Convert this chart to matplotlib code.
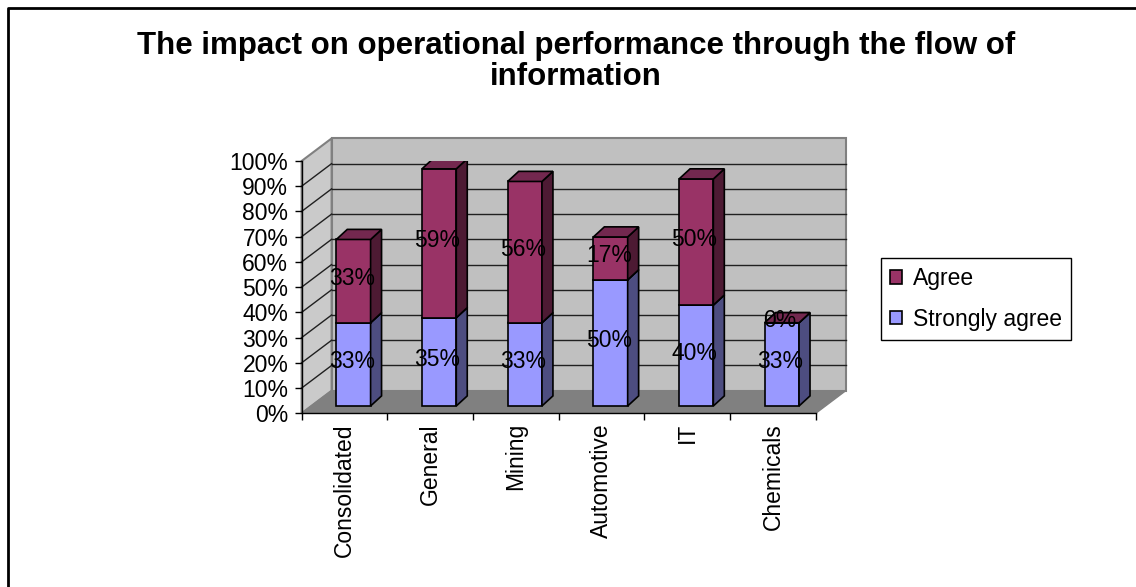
import matplotlib
matplotlib.use('Agg')
import matplotlib.pyplot as plt
from matplotlib.patches import Polygon, Patch
from matplotlib.lines import Line2D
import numpy as np

plt.rcParams['font.family'] = ['Liberation Sans', 'DejaVu Sans']

categories = ['Consolidated', 'General', 'Mining', 'Automotive', 'IT', 'Chemicals']
strongly_agree = [33, 35, 33, 50, 40, 33]
agree = [33, 59, 56, 17, 50, 0]
yticks = list(range(0, 101, 10))

title = 'The impact on operational performance through the flow of\ninformation'

# face colours: front, side, top
blue = ('#9999FF', '#4D4D80', '#7A7ACC')
plum = ('#993366', '#4D1A33', '#73284F')

# pseudo 3D offsets, in data units (x = category, y = percent)
WALL_DX, WALL_DY = 0.35, 8.96
BAR_X0, BAR_Y0 = 0.105, 2.9
BAR_W = 0.40
BAR_DX, BAR_DY = 0.128, 4.0

FS = 16.5

fig = plt.figure(figsize=(11.36, 5.87), dpi=100)
ax = fig.add_axes([0.2655, 0.2959, 0.4526, 0.4298])
n = len(categories)
x0, x1 = -0.5, n - 0.5
ax.set_xlim(x0, x1)
ax.set_ylim(0, 100)
ax.patch.set_visible(False)

# walls and floor
back = Polygon([(x0 + WALL_DX, WALL_DY), (x1 + WALL_DX, WALL_DY),
                (x1 + WALL_DX, 100 + WALL_DY), (x0 + WALL_DX, 100 + WALL_DY)],
               fc='#C0C0C0', ec='#808080', lw=1.5, clip_on=False, zorder=0)
side = Polygon([(x0, 0), (x0 + WALL_DX, WALL_DY), (x0 + WALL_DX, 100 + WALL_DY), (x0, 100)],
               fc='#CACACA', ec='#808080', lw=1.5, clip_on=False, zorder=0.1)
floor = Polygon([(x0, 0), (x1, 0), (x1 + WALL_DX, WALL_DY), (x0 + WALL_DX, WALL_DY)],
                fc='#808080', ec='#808080', lw=1, clip_on=False, zorder=0.2)
for p in (back, side, floor):
    ax.add_patch(p)

for v in yticks[1:-1]:
    ax.plot([x0 + WALL_DX, x1 + WALL_DX], [v + WALL_DY, v + WALL_DY],
            color='#202020', lw=1, clip_on=False, zorder=0.3)
    ax.plot([x0, x0 + WALL_DX], [v, v + WALL_DY],
            color='#202020', lw=1, clip_on=False, zorder=0.3)

# stacked bars
for i in range(n):
    bottom = 0
    for k, (vals, col) in enumerate(((strongly_agree, blue), (agree, plum))):
        v = vals[i]
        xl = i - BAR_W / 2 + BAR_X0
        xr = xl + BAR_W
        yb = BAR_Y0 + bottom
        yt = yb + v
        z = 3 + k * 0.5
        ax.bar(xl, v, width=BAR_W, bottom=yb, align='edge', color=col[0],
               edgecolor='black', lw=1.2, zorder=z)
        ax.add_patch(Polygon([(xr, yb), (xr + BAR_DX, yb + BAR_DY),
                              (xr + BAR_DX, yt + BAR_DY), (xr, yt)],
                             fc=col[1], ec='black', lw=1.2, zorder=z))
        ax.add_patch(Polygon([(xl, yt), (xr, yt), (xr + BAR_DX, yt + BAR_DY),
                              (xl + BAR_DX, yt + BAR_DY)],
                             fc=col[2], ec='black', lw=1.2, zorder=z + 0.1))
        ax.text((xl + xr) / 2 - 0.02, (yb + yt) / 2 + 1, f'{v}%', ha='center',
                va='center', fontsize=FS, color='black', zorder=10)
        bottom += v

# axes
for s in ('top', 'right'):
    ax.spines[s].set_visible(False)
for s in ('left', 'bottom'):
    ax.spines[s].set_color('black')
    ax.spines[s].set_linewidth(1)

ax.set_yticks(yticks)
ax.set_yticklabels([f'{v}%' for v in yticks], fontsize=FS)
ax.tick_params(axis='y', length=5, width=1, pad=4.6)

ax.set_xticks(range(n))
ax.set_xticklabels(categories, rotation=90, fontsize=FS, va='top')
ax.set_xticks(np.arange(x0, x1 + 0.01, 1), minor=True)
ax.tick_params(axis='x', which='major', length=0, pad=7)
ax.tick_params(axis='x', which='minor', length=5, width=1)

handles = [Patch(fc=plum[0], ec='black', lw=1.2), Patch(fc=blue[0], ec='black', lw=1.2)]
leg = ax.legend(handles, ['Agree', 'Strongly agree'], loc='upper left',
                bbox_to_anchor=(880.7 / 1136, 1 - 258.3 / 587),
                bbox_transform=fig.transFigure, borderaxespad=0, fontsize=FS,
                fancybox=False, edgecolor='black', framealpha=1,
                handlelength=0.55, handleheight=0.55, handletextpad=0.45,
                borderpad=0.4, labelspacing=0.75)
leg.get_frame().set_linewidth(1)

# baseline of the last title line
fig.text(576 / 1136, 1 - 85 / 587, title, ha='center', va='baseline',
         fontsize=22.5, fontweight='bold', linespacing=1.03)

# frame lines along the top and left edge
fig.add_artist(Line2D([8 / 1136, 8 / 1136, 1], [0, 1 - 8 / 587, 1 - 8 / 587],
                      transform=fig.transFigure, color='black', lw=2))

fig.savefig('out.png', dpi=100)
